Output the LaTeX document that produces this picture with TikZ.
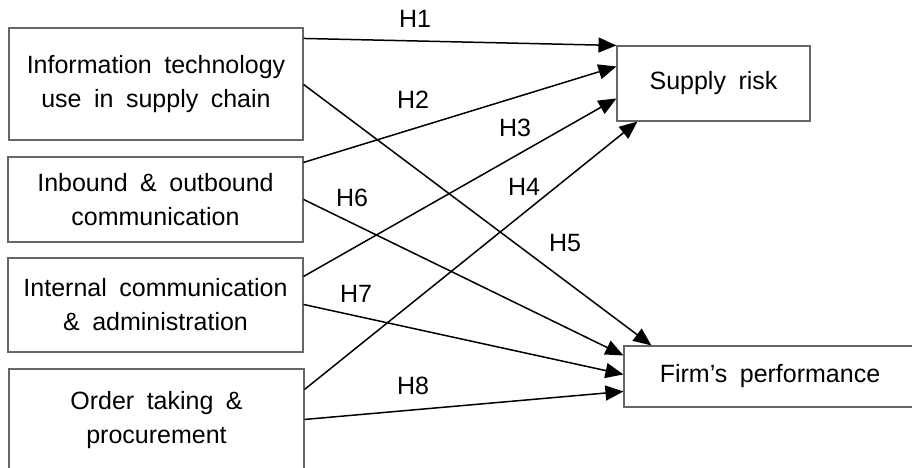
\documentclass[tikz,border=0pt]{standalone}
\usepackage{fontspec}
\setmainfont{Liberation Sans}[WordSpace=1.8]
\usetikzlibrary{arrows.meta}
\tikzset{
  varbox/.style={draw=black!60,line width=1.1pt,inner sep=0pt,align=center,
    font=\fontsize{25}{34}\selectfont},
  hyp/.style={-{Triangle[length=18pt,width=15pt]},line width=1.5pt},
  hlabel/.style={font=\fontsize{25}{30}\selectfont,inner sep=0pt}
}
\begin{document}
\begin{tikzpicture}[x=1pt,y=-1pt]
			\useasboundingbox (0,0) rectangle (912,468);
			% independent variables
			\node [varbox,minimum width=294pt,minimum height=112pt] (it) at (156,84) {Information technology\\use in supply chain};
			\node [varbox,minimum width=295pt,minimum height=85pt] (ib) at (155.5,199.5) {Inbound \& outbound\\communication};
			\node [varbox,minimum width=295pt,minimum height=94pt] (ic) at (155.5,305) {Internal communication\\\& administration};
			\node [varbox,minimum width=295pt,minimum height=102pt] (ot) at (156.5,420) {Order taking \&\\procurement};
			% dependent variables
			\node [varbox,minimum width=193pt,minimum height=75pt] (sr) at (713.5,83.5) {Supply risk};
			\node [varbox,minimum width=292pt,minimum height=61pt] (fp) at (770,376.5) {Firm’s performance};
			% hypotheses
			\draw [hyp] ([yshift=-11pt]it.north east) -- (sr.north west);
			\draw [hyp] ([yshift=-57pt]it.north east) -- ([xshift=28pt]fp.north west);
			\draw [hyp] ([yshift=-6pt]ib.north east) -- ([yshift=-21pt]sr.north west);
			\draw [hyp] ([yshift=-43pt]ib.north east) -- ([yshift=-10pt]fp.north west);
			\draw [hyp] ([yshift=-19pt]ic.north east) -- ([yshift=-53pt]sr.north west);
			\draw [hyp] ([yshift=-47pt]ic.north east) -- ([yshift=-29pt]fp.north west);
			\draw [hyp] ([yshift=-21pt]ot.north east) -- ([xshift=21pt]sr.south west);
			\draw [hyp] ([yshift=-51pt]ot.north east) -- ([yshift=-46pt]fp.north west);
			\node [hlabel] (h1) at (415,19) {H1};
			\node [hlabel] (h2) at (413,100) {H2};
			\node [hlabel] (h3) at (515,128) {H3};
			\node [hlabel] (h4) at (524,187) {H4};
			\node [hlabel] (h5) at (565,243) {H5};
			\node [hlabel] (h6) at (352,198) {H6};
			\node [hlabel] (h7) at (356,294) {H7};
			\node [hlabel] (h8) at (413,386) {H8};
		\end{tikzpicture}
\end{document}
